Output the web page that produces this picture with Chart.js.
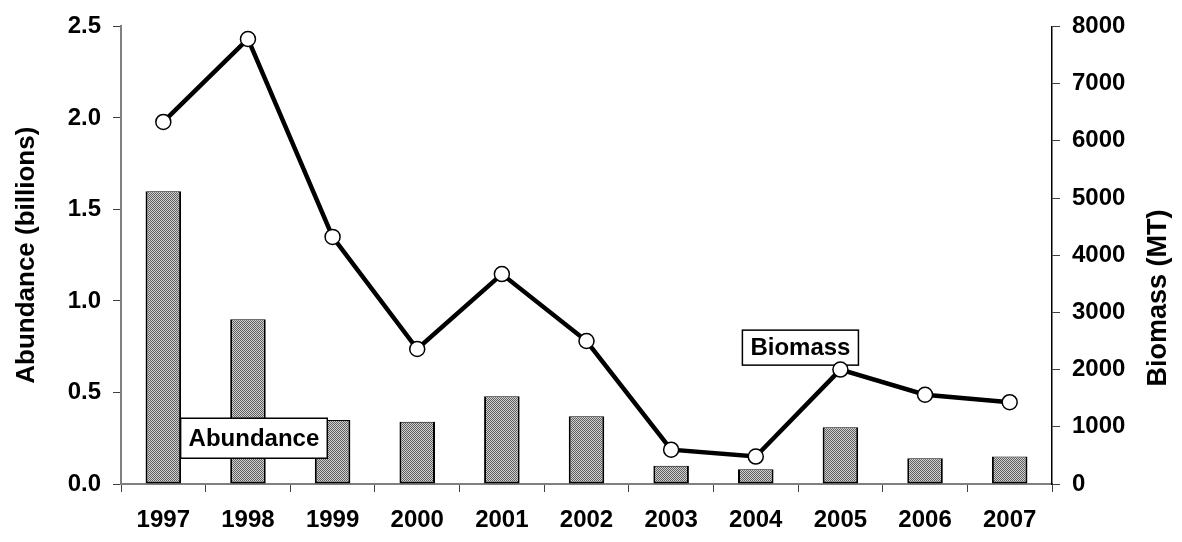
<!DOCTYPE html>
<html>
<head>
<meta charset="utf-8">
<script src="https://cdn.jsdelivr.net/npm/chart.js@4/dist/chart.umd.min.js"></script>
<style>
  html, body { margin: 0; padding: 0; background: #fff; }
  #wrap { width: 1182px; height: 542px; }
</style>
</head>
<body>
<div id="wrap"><canvas id="chart" width="1182" height="542"></canvas></div>
<script>
// data
const years = ["1997", "1998", "1999", "2000", "2001", "2002", "2003", "2004", "2005", "2006", "2007"];
const abundance = [1.6, 0.9, 0.35, 0.34, 0.48, 0.37, 0.1, 0.08, 0.31, 0.14, 0.15]; // billions
const biomass = [6330, 7780, 4320, 2360, 3670, 2500, 600, 480, 2000, 1560, 1430]; // MT
const leftTicks = [0, 0.5, 1.0, 1.5, 2.0, 2.5];
const rightTicks = [0, 1000, 2000, 3000, 4000, 5000, 6000, 7000, 8000];

const fontName = "'Liberation Sans', Arial, sans-serif";

// dotted grey fill like the original bars
function makePattern() {
  const c = document.createElement("canvas");
  c.width = 2;
  c.height = 2;
  const g = c.getContext("2d");
  g.fillStyle = "#d0d0d0";
  g.fillRect(0, 0, 2, 2);
  g.fillStyle = "#606060";
  g.fillRect(0, 0, 1, 1);
  g.fillRect(1, 1, 1, 1);
  return g.createPattern(c, "repeat");
}

// text boxes "Abundance" / "Biomass", drawn over bars but under the line
const boxLabels = {
  id: "boxLabels",
  afterDatasetDraw(chart, args) {
    if (args.meta.type !== "bar") return;
    const ctx = chart.ctx;
    const x = chart.scales.x;
    const y = chart.scales.y;
    const notes = [
      { text: "Abundance", cx: x.getPixelForValue(1) + 6, cy: y.getPixelForValue(0.25), h: 40, pad: 16 },
      { text: "Biomass", cx: x.getPixelForValue(8) - 40, cy: y.getPixelForValue(0.745), h: 35, pad: 16 },
    ];
    ctx.save();
    ctx.font = "bold 24px " + fontName;
    ctx.textAlign = "center";
    ctx.textBaseline = "middle";
    notes.forEach((n) => {
      const w = ctx.measureText(n.text).width + n.pad;
      ctx.fillStyle = "#fff";
      ctx.fillRect(n.cx - w / 2, n.cy - n.h / 2, w, n.h);
      ctx.lineWidth = 1.5;
      ctx.strokeStyle = "#000";
      ctx.strokeRect(n.cx - w / 2, n.cy - n.h / 2, w, n.h);
      ctx.fillStyle = "#000";
      ctx.fillText(n.text, n.cx, n.cy + 1);
    });
    ctx.restore();
  },
};

// right axis title sits a bit below the middle in the original
const rightTitle = {
  id: "rightTitle",
  afterDraw(chart) {
    const ctx = chart.ctx;
    const y1 = chart.scales.y1;
    ctx.save();
    ctx.translate(y1.right - 23, y1.getPixelForValue(3250));
    ctx.rotate(-Math.PI / 2);
    ctx.font = "bold 27px " + fontName;
    ctx.textAlign = "center";
    ctx.textBaseline = "middle";
    ctx.fillStyle = "#000";
    ctx.fillText("Biomass (MT)", 0, 0);
    ctx.restore();
  },
};

const tickFont = { family: fontName, size: 24, weight: "bold" };
const titleFont = { family: fontName, size: 26, weight: "bold" };

new Chart(document.getElementById("chart"), {
  type: "bar",
  data: {
    labels: years,
    datasets: [
      {
        type: "line",
        label: "Biomass",
        data: biomass,
        yAxisID: "y1",
        borderColor: "#000",
        borderWidth: 4.5,
        pointRadius: 7.5,
        pointBackgroundColor: "#fff",
        pointBorderColor: "#000",
        pointBorderWidth: 1.5,
        tension: 0,
        order: 0,
      },
      {
        label: "Abundance",
        data: abundance,
        yAxisID: "y",
        backgroundColor: makePattern(),
        borderColor: "#000",
        borderWidth: { left: 2, right: 2, bottom: 2, top: 1 },
        borderSkipped: false,
        categoryPercentage: 1,
        barPercentage: 0.42,
        order: 1,
      },
    ],
  },
  options: {
    responsive: false,
    devicePixelRatio: 1,
    animation: false,
    layout: { padding: { top: 18, left: 0, right: 0, bottom: 0 } },
    plugins: { legend: { display: false }, tooltip: { enabled: false } },
    scales: {
      x: {
        offset: true,
        afterFit: (s) => { s.height = 58; },
        border: { color: "#808080", width: 2 },
        grid: { offset: true, drawOnChartArea: false, drawTicks: true, tickLength: 8, color: "#404040" },
        ticks: { color: "#000", font: tickFont, padding: 14, maxRotation: 0 },
      },
      y: {
        position: "left",
        min: 0,
        max: 2.5,
        afterFit: (s) => { s.width = 121; },
        afterBuildTicks: (s) => { s.ticks = leftTicks.map((v) => ({ value: v })); },
        border: { color: "#808080", width: 2 },
        grid: { drawOnChartArea: false, drawTicks: true, tickLength: 8, color: "#404040" },
        ticks: { color: "#000", font: tickFont, padding: 12, callback: (v) => v.toFixed(1) },
        title: { display: true, text: "Abundance (billions)", color: "#000", font: titleFont, padding: { top: 11, bottom: 0 } },
      },
      y1: {
        position: "right",
        min: 0,
        max: 8000,
        afterFit: (s) => { s.width = 130; },
        afterBuildTicks: (s) => { s.ticks = rightTicks.map((v) => ({ value: v })); },
        border: { color: "#000", width: 1.5 },
        grid: { drawOnChartArea: false, drawTicks: true, tickLength: 8, color: "#404040" },
        ticks: { color: "#000", font: tickFont, padding: 12, callback: (v) => String(v) },
      },
    },
  },
  plugins: [boxLabels, rightTitle],
});
</script>
</body>
</html>
